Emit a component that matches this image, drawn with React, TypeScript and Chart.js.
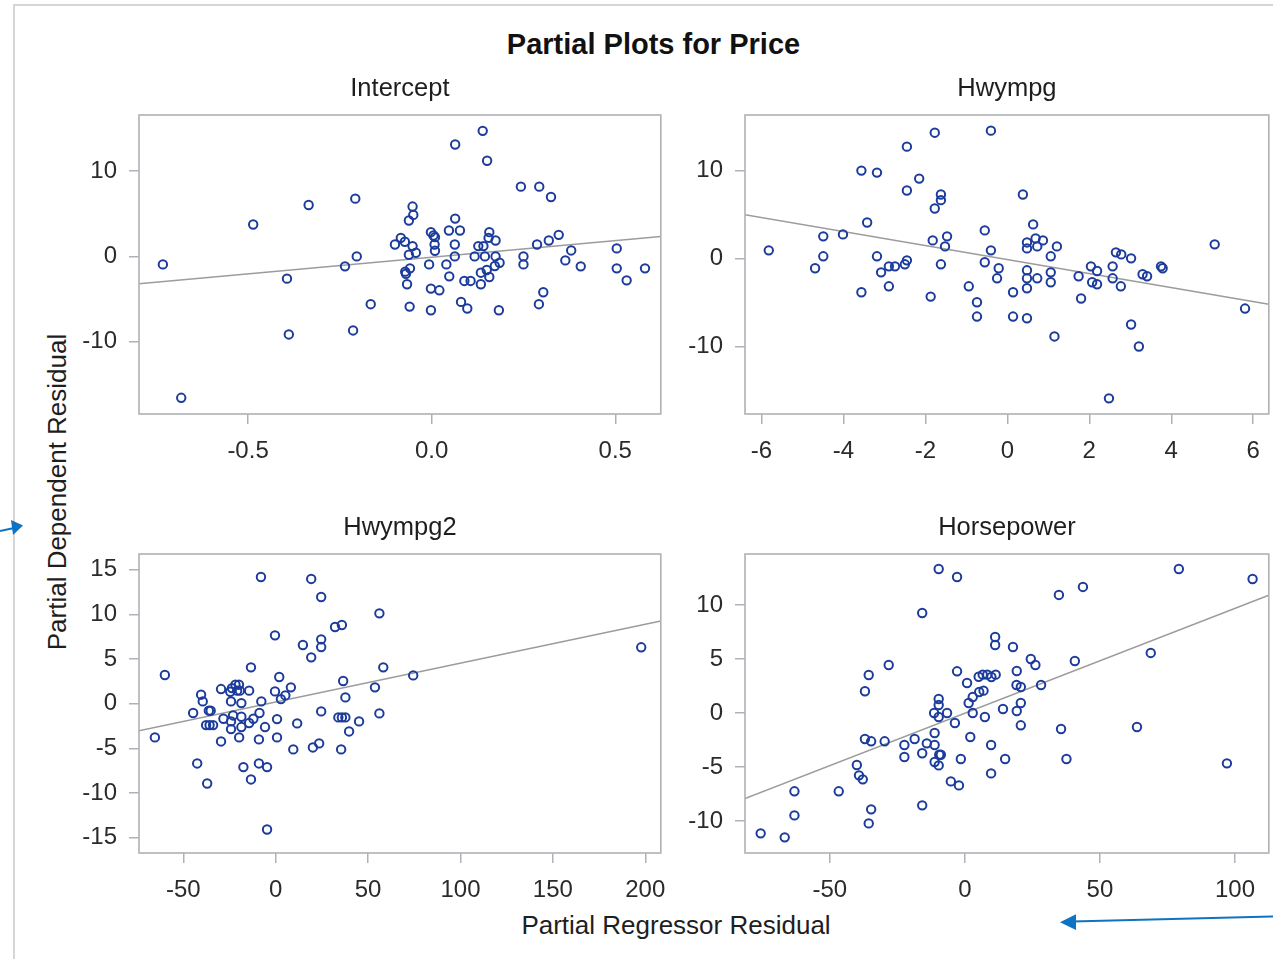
import React, { useEffect, useRef } from "react";
import { Chart, registerables } from "chart.js";

Chart.register(...registerables);

const FONT = "'Liberation Sans', Arial, sans-serif";
const MARKER = "#1c3c9c";
const FIT = "#9c9c9c";
const FRAME = "#aeb2b6";
const TICK_TEXT = "#2b2b2b";

// ---- Intercept ----
const interceptX = [
  -0.732, -0.682, -0.486, -0.335, -0.394, -0.389, -0.208, -0.204, -0.236, -0.166,
  -0.214, -0.052, -0.05, -0.062, -0.084, -0.1, -0.073, -0.052, -0.062, -0.043,
  -0.059, -0.072, -0.07, -0.067, -0.06, -0.002, 0.005, 0.009, 0.008, 0.009,
  0.047, 0.077, 0.064, 0.063, 0.063, -0.007, 0.04, 0.048, -0.002, 0.021,
  -0.002, 0.08, 0.097, 0.089, 0.106, 0.117, 0.127, 0.141, 0.145, 0.157,
  0.155, 0.174, 0.174, 0.172, 0.185, 0.15, 0.134, 0.157, 0.134, 0.183,
  0.064, 0.139, 0.151, 0.243, 0.293, 0.325, 0.25, 0.25, 0.287, 0.319,
  0.346, 0.364, 0.38, 0.406, 0.304, 0.292, 0.504, 0.504, 0.531, 0.581,
];
const interceptY = [
  -0.94, -16.6, 3.74, 6.04, -2.61, -9.16, 6.78, 0, -1.17, -5.61,
  -8.69, 5.85, 4.87, 4.21, 2.18, 1.4, 1.72, 1.21, 0.19, 0.43,
  -1.4, -1.79, -2.03, -3.27, -5.89, 2.85, 2.46, 2.26, 1.4, 0.66,
  3.04, 3.04, 4.44, 1.4, 0, -0.94, -0.94, -2.34, -3.78, -3.98,
  -6.32, -5.34, -6.12, -2.88, -2.88, 0, 1.21, 1.21, 0, 2.85,
  2.18, 1.87, 0, -1.13, -0.74, -1.6, -1.91, -2.42, -3.27, -6.32,
  13.14, 14.74, 11.23, 8.19, 8.19, 6.98, 0, -0.94, 1.4, 1.87,
  2.53, -0.47, 0.7, -1.17, -4.21, -5.61, 0.94, -1.4, -2.81, -1.4,
];
const interceptFitX = [-0.797, 0.624];
const interceptFitY = [-3.2, 2.34];
const interceptXRange = [-0.797, 0.624];
const interceptYRange = [-18.5, 16.6];
const interceptXTicks = [-0.5, 0, 0.5];
const interceptYTicks = [-10, 0, 10];

// ---- Hwympg ----
const hwyX = [
  -5.82, -4.69, -4.49, -4.49, -4.01, -3.56, -3.18, -3.42, -3.56, -3.18,
  -3.08, -2.89, -2.74, -2.89, -2.5, -2.45, -2.45, -2.45, -2.15, -1.77,
  -0.4, -1.62, -1.62, -1.77, -1.82, -1.47, -1.52, -1.62, -1.87, -0.55,
  -0.4, -0.55, -0.21, -0.25, -0.94, -0.74, -0.74, 0.14, 0.14, 0.38,
  0.63, 0.48, 0.48, 0.69, 0.73, 0.87, 1.21, 1.06, 0.48, 0.48,
  0.73, 0.48, 1.06, 1.06, 0.48, 1.15, 1.74, 1.8, 2.04, 2.19,
  2.07, 2.19, 2.57, 2.57, 2.77, 2.65, 2.78, 3.02, 3.3, 3.41,
  3.75, 3.79, 3.02, 3.21, 2.48, 5.06, 5.8,
];
const hwyY = [
  0.91, -1.13, 2.5, 0.23, 2.72, 9.98, 9.75, 4.08, -3.86, 0.23,
  -1.59, -0.91, -0.91, -3.18, -0.68, -0.23, 12.7, 7.71, 9.07, 14.29,
  14.52, 7.26, 6.62, 5.67, 2.04, 2.5, 1.36, -0.68, -4.35, 3.18,
  0.91, -0.45, -1.13, -2.27, -3.18, -4.99, -6.62, -3.86, -6.62, 7.26,
  3.86, 1.81, 1.13, 2.27, 1.36, 2.04, 1.36, 0.23, -1.36, -2.27,
  -2.27, -3.4, -1.59, -2.72, -6.81, -8.88, -2.04, -4.57, -0.91, -1.44,
  -2.72, -2.95, -0.91, -2.27, -3.18, 0.68, 0.45, 0, -1.81, -2.04,
  -0.91, -1.13, -7.52, -10.02, -15.92, 1.59, -5.71,
];
const hwyFitX = [-6.4, 6.38];
const hwyFitY = [4.95, -5.22];
const hwyXRange = [-6.4, 6.38];
const hwyYRange = [-17.7, 16.3];
const hwyXTicks = [-6, -4, -2, 0, 2, 4, 6];
const hwyYTicks = [-10, 0, 10];

// ---- Hwympg2 ----
const hwy2X = [
  -65.4, -60.0, -44.7, -40.4, -39.5, -42.5, -37.1, -36.2, -35.2, -37.7,
  -35.8, -33.9, -29.6, -29.6, -28.3, -24.6, -23.7, -21.8, -19.9, -20.9,
  -19.4, -24.2, -18.6, -14.4, -23.1, -18.6, -24.2, -24.2, -18.6, -19.8,
  -14.4, -12.1, -13.4, -8.8, -7.8, -9.1, -5.8, -17.5, -9.1, -4.7,
  -13.4, -4.7, -8.0, -0.4, -0.4, 1.9, 2.8, 5.2, 8.2, 0.7,
  0.7, 11.6, 9.5, 14.7, 19.2, 19.2, 24.6, 24.6, 24.6, 24.6,
  20.1, 23.5, 32.1, 35.8, 36.5, 37.7, 33.9, 35.8, 37.7, 45.1,
  39.7, 35.4, 56.1, 58.2, 53.7, 56.1, 74.4, 197.8,
];
const hwy2Y = [
  -3.77, 3.21, -1.04, 1.01, 0.26, -6.68, -8.92, -0.78, -0.78, -2.39,
  -2.39, -2.39, 1.64, -4.22, -1.68, 1.34, 1.75, 2.13, 2.13, 1.46,
  1.46, 0.26, 0.07, 1.46, -1.31, -1.46, -1.98, -2.84, -2.61, -3.77,
  -2.16, -1.68, 4.07, -1.04, 0.26, -3.99, -2.61, -7.09, -6.68, -7.09,
  -8.47, -14.07, 14.18, 7.65, 1.38, 2.99, 0.52, 0.93, 1.83, -1.72,
  -3.77, -2.2, -5.11, 6.57, 13.96, 5.19, 11.94, 7.2, 6.34, -0.86,
  -4.89, -4.44, 8.58, 8.81, 2.54, 0.71, -1.53, -1.53, -1.53, -1.98,
  -3.1, -5.11, 10.11, 4.07, 1.83, -1.08, 3.17, 6.31,
];
const hwy2FitX = [-74.0, 208.4];
const hwy2FitY = [-3.02, 9.25];
const hwy2XRange = [-74.0, 208.4];
const hwy2YRange = [-16.7, 16.75];
const hwy2XTicks = [-50, 0, 50, 100, 150, 200];
const hwy2YTicks = [-15, -10, -5, 0, 5, 10, 15];

// ---- Horsepower ----
const hpX = [
  -75.6, -66.7, -63.1, -63.1, -46.7, -40.0, -39.2, -37.8, -34.7, -35.6,
  -37.0, -34.7, -29.7, -37.0, -35.6, -28.2, -22.4, -22.4, -18.6, -15.8,
  -14.1, -15.8, -15.8, -9.7, -2.9, -11.2, -11.2, -9.5, -8.9, -11.2,
  -9.7, -9.7, -9.7, -11.4, -9.7, -6.6, -3.7, -5.2, -2.2, -1.5,
  -2.9, 0.8, 1.4, 2.9, 2.9, 5.3, 6.9, 5.1, 6.6, 8.3,
  9.8, 11.4, 2.0, 7.4, 9.7, 9.7, 11.2, 11.2, 14.1, 14.9,
  17.8, 19.2, 19.1, 20.7, 20.7, 19.2, 20.7, 24.4, 26.1, 28.2,
  34.8, 43.7, 40.7, 35.6, 37.6, 63.7, 68.8, 79.2, 97.0, 106.5,
];
const hpY = [
  -11.14, -11.51, -7.25, -9.48, -7.25, -4.81, -5.77, -6.14, -8.92, -10.22,
  -2.41, -2.62, -2.62, 2.01, 3.52, 4.44, -2.96, -4.07, -2.41, -3.73,
  -2.81, -8.55, 9.26, 13.33, 12.59, -1.85, -2.96, -3.86, -3.86, -4.54,
  -4.85, 1.3, 0.74, 0, -0.37, 0, -0.93, -6.33, -6.7, -4.26,
  3.86, 2.78, 0.93, 1.48, 0, 1.94, 2.07, 3.36, 3.55, 3.55,
  3.33, 3.55, -2.22, -0.37, -2.96, -5.59, 7.04, 6.3, 0.37, -4.26,
  6.11, 3.89, 2.59, 2.41, 0.93, 0.19, -1.14, 5.0, 4.44, 2.59,
  10.93, 11.67, 4.81, -1.48, -4.26, -1.3, 5.56, 13.33, -4.66, 12.41,
];
const hpFitX = [-81.4, 112.5];
const hpFitY = [-7.93, 10.9];
const hpXRange = [-81.4, 112.5];
const hpYRange = [-12.96, 14.72];
const hpXTicks = [-50, 0, 50, 100];
const hpYTicks = [-10, -5, 0, 5, 10];

type PanelData = {
  title: string;
  xs: number[];
  ys: number[];
  fitX: number[];
  fitY: number[];
  xRange: number[];
  yRange: number[];
  xTicks: number[];
  yTicks: number[];
  xDecimals: number;
};

const panels: PanelData[] = [
  { title: "Intercept", xs: interceptX, ys: interceptY, fitX: interceptFitX, fitY: interceptFitY, xRange: interceptXRange, yRange: interceptYRange, xTicks: interceptXTicks, yTicks: interceptYTicks, xDecimals: 1 },
  { title: "Hwympg", xs: hwyX, ys: hwyY, fitX: hwyFitX, fitY: hwyFitY, xRange: hwyXRange, yRange: hwyYRange, xTicks: hwyXTicks, yTicks: hwyYTicks, xDecimals: 0 },
  { title: "Hwympg2", xs: hwy2X, ys: hwy2Y, fitX: hwy2FitX, fitY: hwy2FitY, xRange: hwy2XRange, yRange: hwy2YRange, xTicks: hwy2XTicks, yTicks: hwy2YTicks, xDecimals: 0 },
  { title: "Horsepower", xs: hpX, ys: hpY, fitX: hpFitX, fitY: hpFitY, xRange: hpXRange, yRange: hpYRange, xTicks: hpXTicks, yTicks: hpYTicks, xDecimals: 0 },
];

// plot-area rectangles (left, top, width, height) in page pixels
const frames = [
  { left: 139, top: 115, width: 522, height: 299 },
  { left: 745, top: 115, width: 524, height: 299 },
  { left: 139, top: 554, width: 522, height: 299 },
  { left: 745, top: 554, width: 524, height: 299 },
];

const Y_AXIS_W = 100;
const TITLE_H = 50;
const X_AXIS_H = 60;
const PAD_R = 6;
const TICK_LEN = 10;

const framePlugin = {
  id: "frameBox",
  afterDatasetsDraw(chart: any) {
    const { ctx, chartArea: a } = chart;
    ctx.save();
    ctx.strokeStyle = FRAME;
    ctx.lineWidth = 1.6;
    ctx.strokeRect(a.left, a.top, a.right - a.left, a.bottom - a.top);
    ctx.restore();
  },
};

function Panel({ data, frame }: { data: PanelData; frame: { left: number; top: number; width: number; height: number } }) {
  const ref = useRef<HTMLCanvasElement>(null);
  const w = Y_AXIS_W + frame.width + PAD_R;
  const h = TITLE_H + frame.height + X_AXIS_H;

  useEffect(() => {
    const points = data.xs.map((x, i) => ({ x, y: data.ys[i] }));
    const fit = data.fitX.map((x, i) => ({ x, y: data.fitY[i] }));
    const chart = new Chart(ref.current as HTMLCanvasElement, {
      type: "scatter",
      data: {
        datasets: [
          {
            type: "scatter",
            data: points,
            pointStyle: "circle",
            pointRadius: 4.2,
            pointBorderWidth: 2,
            pointBackgroundColor: "rgba(0,0,0,0)",
            pointBorderColor: MARKER,
            borderColor: MARKER,
          } as any,
          {
            type: "line",
            data: fit,
            borderColor: FIT,
            borderWidth: 1.5,
            pointRadius: 0,
            fill: false,
          } as any,
        ],
      },
      options: {
        responsive: false,
        animation: false,
        events: [],
        devicePixelRatio: 1,
        layout: { padding: { left: 0, right: PAD_R, top: 0, bottom: 0 } },
        plugins: {
          legend: { display: false },
          tooltip: { enabled: false },
          title: {
            display: true,
            text: data.title,
            fullSize: false,
            color: "#1e1e1e",
            font: { family: FONT, size: 25.5, weight: "normal", lineHeight: 1.2 },
            padding: { top: 8.9, bottom: 10.5 },
          },
        },
        scales: {
          x: {
            type: "linear",
            min: data.xRange[0],
            max: data.xRange[1],
            afterBuildTicks: (s: any) => {
              s.ticks = data.xTicks.map((v) => ({ value: v }));
            },
            afterFit: (s: any) => {
              s.height = X_AXIS_H;
              s.paddingLeft = 0;
              s.paddingRight = 0;
            },
            grid: { drawOnChartArea: false, drawTicks: true, tickLength: TICK_LEN, color: FRAME, lineWidth: 1.5 },
            border: { display: false },
            ticks: {
              color: TICK_TEXT,
              font: { family: FONT, size: 24 },
              padding: 13,
              maxRotation: 0,
              autoSkip: false,
              callback: (v: any) => Number(v).toFixed(data.xDecimals),
            },
          },
          y: {
            type: "linear",
            min: data.yRange[0],
            max: data.yRange[1],
            afterBuildTicks: (s: any) => {
              s.ticks = data.yTicks.map((v) => ({ value: v }));
            },
            afterFit: (s: any) => {
              s.width = Y_AXIS_W;
              s.paddingTop = 0;
              s.paddingBottom = 0;
            },
            grid: { drawOnChartArea: false, drawTicks: true, tickLength: TICK_LEN, color: FRAME, lineWidth: 1.5 },
            border: { display: false },
            ticks: {
              color: TICK_TEXT,
              font: { family: FONT, size: 24 },
              padding: 12,
              autoSkip: false,
              callback: (v: any) => String(v),
            },
          },
        },
      } as any,
      plugins: [framePlugin],
    });
    return () => chart.destroy();
  }, [data]);

  return (
    <div style={{ position: "absolute", left: frame.left - Y_AXIS_W, top: frame.top - TITLE_H, width: w, height: h }}>
      <canvas ref={ref} width={w} height={h} style={{ display: "block", width: w, height: h }} />
    </div>
  );
}

export default function App() {
  const yLabelSize = 26;
  const xLabelSize = 26;
  const titleSize = 29;
  return (
    <div
      style={{
        position: "absolute",
        left: 0,
        top: 0,
        width: 1273,
        height: 959,
        overflow: "hidden",
        background: "#ffffff",
        fontFamily: FONT,
      }}
    >
      <div
        style={{
          position: "absolute",
          left: 13,
          top: 4,
          width: 1273,
          height: 959,
          borderTop: "2px solid #d6d6d6",
          borderLeft: "2px solid #d6d6d6",
        }}
      />
      <div
        style={{
          position: "absolute",
          left: 653.5 - 300,
          top: 55 - 0.8465 * titleSize,
          width: 600,
          textAlign: "center",
          fontSize: titleSize,
          lineHeight: 1,
          fontWeight: "bold",
          color: "#111",
          whiteSpace: "nowrap",
        }}
      >
        Partial Plots for Price
      </div>
      <div
        style={{
          position: "absolute",
          left: 57 - 250,
          top: 491.5 - yLabelSize / 2,
          width: 500,
          height: yLabelSize,
          textAlign: "center",
          fontSize: yLabelSize,
          lineHeight: 1,
          color: "#1e1e1e",
          whiteSpace: "nowrap",
          transform: "rotate(-90deg)",
          transformOrigin: "50% 50%",
        }}
      >
        Partial Dependent Residual
      </div>
      <div
        style={{
          position: "absolute",
          left: 676 - 250,
          top: 934 - 0.8465 * xLabelSize,
          width: 500,
          textAlign: "center",
          fontSize: xLabelSize,
          lineHeight: 1,
          color: "#1e1e1e",
          whiteSpace: "nowrap",
        }}
      >
        Partial Regressor Residual
      </div>
      {panels.map((p, i) => (
        <Panel key={p.title} data={p} frame={frames[i]} />
      ))}
      <svg
        width={1273}
        height={959}
        style={{ position: "absolute", left: 0, top: 0, pointerEvents: "none" }}
      >
        <line x1={0} y1={531} x2={14} y2={528} stroke="#0e73c2" strokeWidth={2} />
        <polygon points="23,525.5 11,520 13,535" fill="#0e73c2" />
        <line x1={1273} y1={916.5} x2={1072} y2={921.5} stroke="#0e73c2" strokeWidth={2} />
        <polygon points="1060,922.3 1076,914.3 1076,930" fill="#0e73c2" />
      </svg>
    </div>
  );
}
